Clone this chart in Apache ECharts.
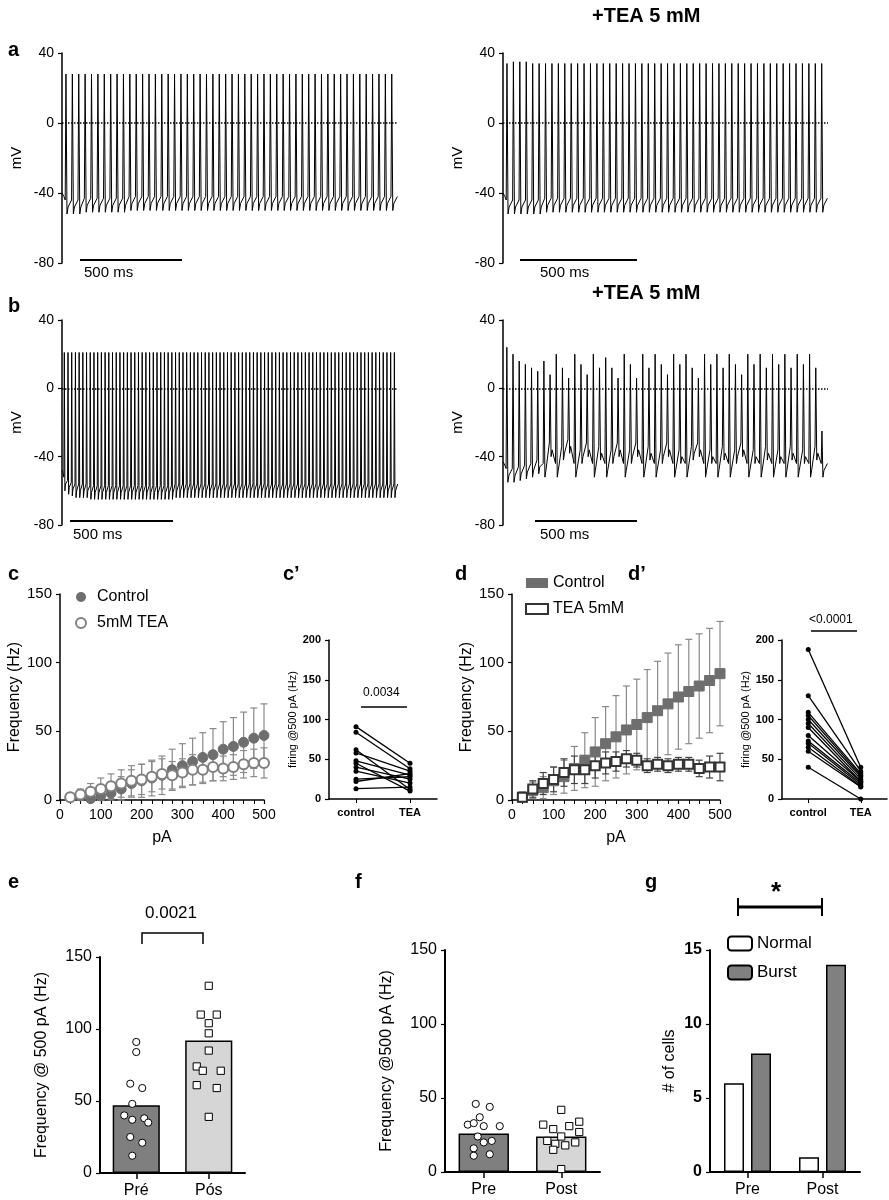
<!DOCTYPE html>
<html><head><meta charset="utf-8">
<script src="https://cdn.jsdelivr.net/npm/echarts@6/dist/echarts.min.js"></script>
<style>html,body{margin:0;padding:0;background:#fff}#c{width:889px;height:1200px}</style>
</head><body><div id="c"></div>
<script>
// ---- trace data (mV): per-spike peaks and troughs ----
const aLeftPeaks = [28,28,28,28,28,28,28,28,28,28,28,28,28,28,28,28,28,28,28,28,28,28,28,28,28,28,28,28,28,28,28,28,28,28,28,28,28,28,28,28,28,28,28,28,28,28,28,28,28,28,28,28];
const aLeftTroughs = [-52,-52,-52,-51,-51,-51,-51,-51,-51,-51,-50,-50,-50,-50,-50,-50,-50,-50,-50,-50,-50,-50,-50,-50,-50,-50,-50,-50,-50,-50,-50,-50,-50,-50,-50,-50,-50,-50,-50,-50,-50,-50,-50,-50,-50,-50,-50,-50,-50,-50,-50,-50];
const aRightPeaks = [34,35,35,35,34,34,34,34,34,34,34,34,34,34,34,34,34,34,34,34,34,34,34,34,34,34,34,34,34,34,34,34,34,34,34,34,34,34,34,34,34,34,34,34,34,34,34,34,34,34];
const aRightTroughs = [-52,-52,-52,-52,-52,-52,-51,-51,-51,-51,-51,-51,-51,-51,-51,-51,-51,-51,-51,-51,-51,-51,-51,-51,-51,-51,-51,-51,-51,-51,-51,-51,-51,-51,-51,-51,-51,-51,-51,-51,-51,-51,-51,-51,-51,-51,-51,-51,-51,-51];
const bLeftPeaks = [21,21,21,21,21,21,21,21,21,21,21,21,21,21,21,21,21,21,21,21,21,21,21,21,21,21,21,21,21,21,21,21,21,21,21,21,21,21,21,21,21,21,21,21,21,21,21,21,21,21,21,21,21,21,21,21,21,21,21,21,21,21,21,21,21,21,21,21,21,21,21,21,21,21,21,21,21,21,21,21,21,21,21,21,21,21,21,21,21,21];
const bLeftTroughs = [-60,-62,-63,-64,-64,-64,-64,-65,-65,-65,-65,-65,-65,-65,-65,-65,-65,-65,-65,-65,-65,-65,-65,-65,-65,-65,-65,-65,-65,-65,-64,-64,-64,-64,-64,-64,-64,-64,-64,-64,-64,-64,-64,-64,-64,-64,-64,-64,-64,-64,-64,-64,-64,-64,-64,-64,-64,-64,-64,-64,-64,-64,-64,-64,-64,-64,-64,-64,-64,-64,-64,-64,-64,-64,-64,-64,-64,-64,-64,-64,-64,-64,-64,-64,-64,-64,-64,-64,-64,-64];
const bRightPeaks = [24,20,16,14,12,10,16,8,20,12,6,20,14,8,20,12,18,12,6,20,14,6,20,12,20,14,8,20,14,20,12,6,20,14,20,12,20,14,8,20,14,20,12,20,14,20,12,20,14,20,12,-25];
const bRightTroughs = [-55,-55,-54,-53,-52,-50,-52,-40,-52,-42,-38,-52,-44,-40,-52,-42,-52,-44,-40,-52,-44,-40,-52,-42,-52,-44,-40,-52,-44,-52,-42,-40,-52,-44,-52,-42,-52,-44,-40,-52,-44,-52,-42,-52,-44,-52,-42,-52,-44,-52,-42,-52];
const mvTicks = [-80,-40,0,40];

// ---- c / d: frequency vs current ----
const currents = [25,50,75,100,125,150,175,200,225,250,275,300,325,350,375,400,425,450,475,500];
const cControl = [2,3,1,3,5,8,12,14,16,18,22,25,28,31,33,37,39,42,45,47];
const cControlErr = [3,4,5,6,8,9,10,12,13,14,15,16,17,18,19,20,21,22,22,23];
const cTEA = [2,4,6,8,10,12,14,15,17,19,18,20,22,22,24,23,24,26,27,27];
const cTEAErr = [2,4,6,8,9,10,11,11,11,11,10,10,11,10,10,9,9,10,10,11];
const dControl = [2,7,9,14,17,23,29,35,41,46,51,55,60,65,70,75,79,83,87,92];
const dControlErr = [4,6,8,10,12,16,20,25,27,30,32,33,35,36,37,38,38,38,38,38];
const dTEA = [2,8,12,15,20,22,22,25,27,28,30,29,25,26,25,26,26,23,24,24];
const dTEAErr = [3,6,8,9,10,10,10,9,8,7,6,5,5,5,5,5,5,6,8,10];

// ---- c' / d' paired ----
const cpControl = [91,84,62,58,48,45,40,35,25,22,13];
const cpTEA = [45,38,12,35,30,10,25,20,28,32,15];
const dpControl = [188,130,109,105,100,95,90,80,73,70,65,60,40];
const dpTEA = [40,35,32,30,28,25,22,22,20,18,16,15,0];

// ---- e / f ----
const eCats = ['Pré','Pós'];
const eMeans = [47,92];
const ePre = [91,84,62,59,48,40,38,37,35,25,21,12];
const ePost = [130,110,110,104,97,85,74,71,71,61,59,39];
const fCats = ['Pre','Post'];
const fMeans = [26,24];
const fPre = [46,44,37,32,31,31,33,24,21,20,16,12,11];
const fPost = [42,34,32,31,29,27,24,21,20,19,18,15,2];
// horizontal jitter (px) for dots
const ePreJit = [0,0,-6,6,-4,-12,8,-4,12,-6,6,-4];
const ePostJit = [0,-8,8,0,0,0,-12,12,-6,-12,8,0];
const fPreJit = [-8,6,-4,-16,0,16,-10,-6,8,0,-10,6,-10];
const fPostJit = [0,18,-18,8,-8,18,0,-14,14,-6,4,-8,0];

// ---- g ----
const gCats = ['Pre','Post'];
const gNormal = [6,1];
const gBurst = [8,14];

const TF = 'Liberation Sans Narrow, Liberation Sans, Arial';
const NF = 'Liberation Sans, Arial';

function traceData(peaks, troughs){
  const d = [[0, troughs[0]+12],[0.3, troughs[0]+10]];
  for(let i=0;i<peaks.length;i++){
    const t = i+0.5;
    d.push([t, troughs[i]+8]);
    d.push([t+0.12, peaks[i]]);
    d.push([t+0.28, troughs[i]]);
    d.push([t+0.45, troughs[i]+4]);
  }
  d.push([peaks.length+0.5, troughs[troughs.length-1]+8]);
  return d;
}

const chart = echarts.init(document.getElementById('c'));
const grids=[], xAxes=[], yAxes=[], series=[], graphic=[], legends=[];
function axisBase(){return {axisLine:{show:true,lineStyle:{color:'#000',width:1.5}},axisTick:{show:true,length:4,lineStyle:{color:'#000',width:1.2}},axisLabel:{color:'#000',fontFamily:TF,fontSize:14},splitLine:{show:false}};}

const traces = [
  {g:{left:62,top:53,width:336,height:210},p:aLeftPeaks,t:aLeftTroughs},
  {g:{left:503,top:53,width:325,height:210},p:aRightPeaks,t:aRightTroughs},
  {g:{left:62,top:320,width:336,height:205},p:bLeftPeaks,t:bLeftTroughs},
  {g:{left:503,top:320,width:325,height:205},p:bRightPeaks,t:bRightTroughs}
];
traces.forEach(tr=>{
  const gi = grids.length;
  grids.push(tr.g);
  xAxes.push({gridIndex:gi,type:'value',min:0,max:tr.p.length+0.6,show:false});
  yAxes.push(Object.assign(axisBase(),{gridIndex:gi,type:'value',min:mvTicks[0],max:mvTicks[3],interval:40,
    name:'mV',nameLocation:'middle',nameGap:38,nameTextStyle:{fontFamily:NF,fontSize:15,color:'#000'}}));
  series.push({type:'line',xAxisIndex:gi,yAxisIndex:gi,data:traceData(tr.p,tr.t),symbol:'none',lineStyle:{color:'#000',width:1},
    markLine:{silent:true,symbol:'none',label:{show:false},lineStyle:{type:'dotted',color:'#000',width:1.5},data:[{yAxis:0}]}});
});

function errSeries(gi, xs, ys, es, color){
  return {type:'custom',xAxisIndex:gi,yAxisIndex:gi,z:1,
    data: xs.map((x,i)=>[x, ys[i]-es[i], ys[i]+es[i]]),
    renderItem:(params,api)=>{
      const lo=api.coord([api.value(0),Math.max(0,api.value(1))]), hi=api.coord([api.value(0),api.value(2)]);
      const s={stroke:color,lineWidth:1.2};
      return {type:'group',children:[
        {type:'line',shape:{x1:lo[0],y1:lo[1],x2:hi[0],y2:hi[1]},style:s},
        {type:'line',shape:{x1:hi[0]-3.5,y1:hi[1],x2:hi[0]+3.5,y2:hi[1]},style:s},
        {type:'line',shape:{x1:lo[0]-3.5,y1:lo[1],x2:lo[0]+3.5,y2:lo[1]},style:s}]};
    }};
}
function freqPanel(grid, ctrl, ce, tea, te, sym, legendPos, teaName){
  const gi=grids.length; grids.push(grid);
  xAxes.push(Object.assign(axisBase(),{gridIndex:gi,type:'value',min:0,max:500,interval:100,minorTick:{show:true,splitNumber:4,length:4,lineStyle:{color:'#000'}},
    name:'pA',nameLocation:'middle',nameGap:30,nameTextStyle:{fontFamily:TF,fontSize:16,color:'#000'}}));
  yAxes.push(Object.assign(axisBase(),{gridIndex:gi,type:'value',min:0,max:150,interval:50,axisLabel:{color:'#000',fontFamily:TF,fontSize:15},
    name:'Frequency (Hz)',nameLocation:'middle',nameGap:34,nameTextStyle:{fontFamily:NF,fontSize:16,color:'#000'}}));
  series.push(errSeries(gi,currents,ctrl,ce,'#8a8a8a'));
  series.push(errSeries(gi,currents,tea,te,sym==='circle'?'#8a8a8a':'#444'));
  series.push({name:'Control',type:'line',xAxisIndex:gi,yAxisIndex:gi,data:currents.map((x,i)=>[x,ctrl[i]]),symbol:sym,symbolSize:10,
    lineStyle:{width:0},itemStyle:{color:'#6e6e6e',borderColor:'#6e6e6e'},z:3});
  series.push({name:teaName,type:'line',xAxisIndex:gi,yAxisIndex:gi,data:currents.map((x,i)=>[x,tea[i]]),symbol:sym==='circle'?'emptyCircle':'emptyRect',symbolSize:sym==='circle'?10:9,
    lineStyle:{width:0},itemStyle:{color:sym==='circle'?'#808080':'#333',borderWidth:2},z:4});
  legends.push({left:legendPos[0],top:legendPos[1],orient:'vertical',itemGap:10,itemWidth:22,itemHeight:10,
    data:[{name:'Control',icon:sym==='circle'?'circle':'rect'},{name:teaName,icon:sym==='circle'?'emptyCircle':'emptyRect'}],
    textStyle:{fontFamily:TF,fontSize:16,color:'#000'}});
  return gi;
}
freqPanel({left:60,top:594,width:204,height:206},cControl,cControlErr,cTEA,cTEAErr,'circle',[70,584],'5mM TEA');
freqPanel({left:512,top:594,width:208,height:206},dControl,dControlErr,dTEA,dTEAErr,'rect',[520,570],'TEA 5mM');

function pairedPanel(grid, a, b){
  const gi=grids.length; grids.push(grid);
  xAxes.push(Object.assign(axisBase(),{gridIndex:gi,type:'category',data:['control','TEA'],boundaryGap:true,axisTick:{show:true,alignWithLabel:true,length:4,lineStyle:{color:'#000'}},
    axisLabel:{color:'#000',fontFamily:NF,fontSize:11,fontWeight:'bold',interval:0}}));
  yAxes.push(Object.assign(axisBase(),{gridIndex:gi,type:'value',min:0,max:200,interval:50,
    axisLabel:{color:'#000',fontFamily:TF,fontSize:11,fontWeight:'bold'},
    name:'firing @500 pA (Hz)',nameLocation:'middle',nameGap:26,nameTextStyle:{fontFamily:NF,fontSize:11,color:'#000'}}));
  a.forEach((v,i)=>series.push({type:'line',xAxisIndex:gi,yAxisIndex:gi,data:[v,b[i]],symbol:'circle',symbolSize:5,
    lineStyle:{color:'#000',width:1.3},itemStyle:{color:'#000'}}));
}
pairedPanel({left:329,top:640,width:108,height:159},cpControl,cpTEA);
pairedPanel({left:782,top:640,width:105,height:159},dpControl,dpTEA);

function dotPanel(grid, cats, means, pre, post, preJ, postJ, yname){
  const gi=grids.length; grids.push(grid);
  xAxes.push(Object.assign(axisBase(),{gridIndex:gi,type:'category',data:cats,axisTick:{show:true,alignWithLabel:true,length:6,lineStyle:{color:'#000',width:1.5}},
    axisLine:{lineStyle:{color:'#000',width:2}},axisLabel:{color:'#000',fontFamily:TF,fontSize:16,margin:10}}));
  yAxes.push(Object.assign(axisBase(),{gridIndex:gi,type:'value',min:0,max:150,interval:50,axisLine:{show:true,lineStyle:{color:'#000',width:2}},
    axisLabel:{color:'#000',fontFamily:TF,fontSize:16},
    name:yname,nameLocation:'middle',nameGap:50,nameTextStyle:{fontFamily:NF,fontSize:16,color:'#000'}}));
  series.push({type:'bar',xAxisIndex:gi,yAxisIndex:gi,barWidth:'65%',data:[
    {value:means[0],itemStyle:{color:'#7f7f7f'}},{value:means[1],itemStyle:{color:'#d6d6d6'}}],
    itemStyle:{borderColor:'#000',borderWidth:1.5}});
  const mk=(vals,jit,cat,shape)=>({type:'custom',xAxisIndex:gi,yAxisIndex:gi,z:5,data:vals.map((v,i)=>[cat,v,jit[i]]),
    renderItem:(params,api)=>{const c=api.coord([api.value(0),api.value(1)]);const x=c[0]+api.value(2);
      return shape==='c'?{type:'circle',shape:{cx:x,cy:c[1],r:3.6},style:{fill:'#fff',stroke:'#000',lineWidth:1}}
       :{type:'rect',shape:{x:x-3.6,y:c[1]-3.6,width:7.2,height:7.2},style:{fill:'#fff',stroke:'#000',lineWidth:1}};}});
  series.push(mk(pre,preJ,0,'c')); series.push(mk(post,postJ,1,'s'));
}
dotPanel({left:100,top:957,width:145,height:216},eCats,eMeans,ePre,ePost,ePreJit,ePostJit,'Frequency @ 500 pA (Hz)');
dotPanel({left:445,top:950,width:155,height:222},fCats,fMeans,fPre,fPost,fPreJit,fPostJit,'Frequency @500 pA (Hz)');

(function(){
  const gi=grids.length; grids.push({left:710,top:950,width:150,height:222});
  xAxes.push(Object.assign(axisBase(),{gridIndex:gi,type:'category',data:gCats,axisTick:{show:true,alignWithLabel:true,length:6,lineStyle:{color:'#000',width:1.5}},
    axisLine:{lineStyle:{color:'#000',width:2}},axisLabel:{color:'#000',fontFamily:TF,fontSize:16,margin:10}}));
  yAxes.push(Object.assign(axisBase(),{gridIndex:gi,type:'value',min:0,max:15,interval:5,axisLine:{show:true,lineStyle:{color:'#000',width:2}},
    axisLabel:{color:'#000',fontFamily:TF,fontSize:16,fontWeight:'bold'},
    name:'# of cells',nameLocation:'middle',nameGap:32,nameTextStyle:{fontFamily:NF,fontSize:16,color:'#000'}}));
  series.push({name:'Normal',type:'bar',xAxisIndex:gi,yAxisIndex:gi,data:gNormal,barWidth:20,barGap:'35%',itemStyle:{color:'#fff',borderColor:'#000',borderWidth:1.5}});
  series.push({name:'Burst',type:'bar',xAxisIndex:gi,yAxisIndex:gi,data:gBurst,barWidth:20,itemStyle:{color:'#808080',borderColor:'#000',borderWidth:1.5}});
  legends.push({left:722,top:930,orient:'vertical',itemGap:12,itemWidth:24,itemHeight:14,data:['Normal','Burst'],
    textStyle:{fontFamily:TF,fontSize:17,color:'#000'}});
})();

const T=(x,y,s,size,bold)=>graphic.push({type:'text',left:x,top:y,style:{text:s,fontFamily:NF,fontSize:size,fontWeight:bold?'bold':'normal',fill:'#000'}});
const L=(x1,y1,x2,y2,w)=>graphic.push({type:'line',shape:{x1,y1,x2,y2},style:{stroke:'#000',lineWidth:w||2}});
T(8,40,'a',20,true); T(8,296,'b',20,true); T(8,564,'c',20,true); T(283,564,"c’",20,true);
T(455,564,'d',20,true); T(628,564,"d’",20,true); T(8,872,'e',20,true); T(355,872,'f',20,true); T(645,872,'g',20,true);
T(592,6,'+TEA 5 mM',20,true); T(592,283,'+TEA 5 mM',20,true);
L(80,260,182,260); T(84,265,'500 ms',15,false);
L(520,260,637,260); T(540,265,'500 ms',15,false);
L(70,521,173,521); T(73,527,'500 ms',15,false);
L(535,521,637,521); T(540,527,'500 ms',15,false);
T(363,687,'0.0034',12,false); L(361,707,407,707,1.5);
T(809,614,'<0.0001',12,false); L(811,631,857,631,1.5);
T(145,905,'0.0021',17,false);
graphic.push({type:'polyline',shape:{points:[[142,944],[142,933],[203,933],[203,944]]},style:{stroke:'#000',lineWidth:1.5,fill:null}});
graphic.push({type:'text',left:771,top:880,style:{text:'*',fontFamily:NF,fontSize:26,fontWeight:'bold',fill:'#000'}});
L(738,907,822,907,3); L(738,898,738,916,2); L(822,898,822,916,2);

chart.setOption({animation:false,grid:grids,xAxis:xAxes,yAxis:yAxes,series,legend:legends,graphic});
</script></body></html>
